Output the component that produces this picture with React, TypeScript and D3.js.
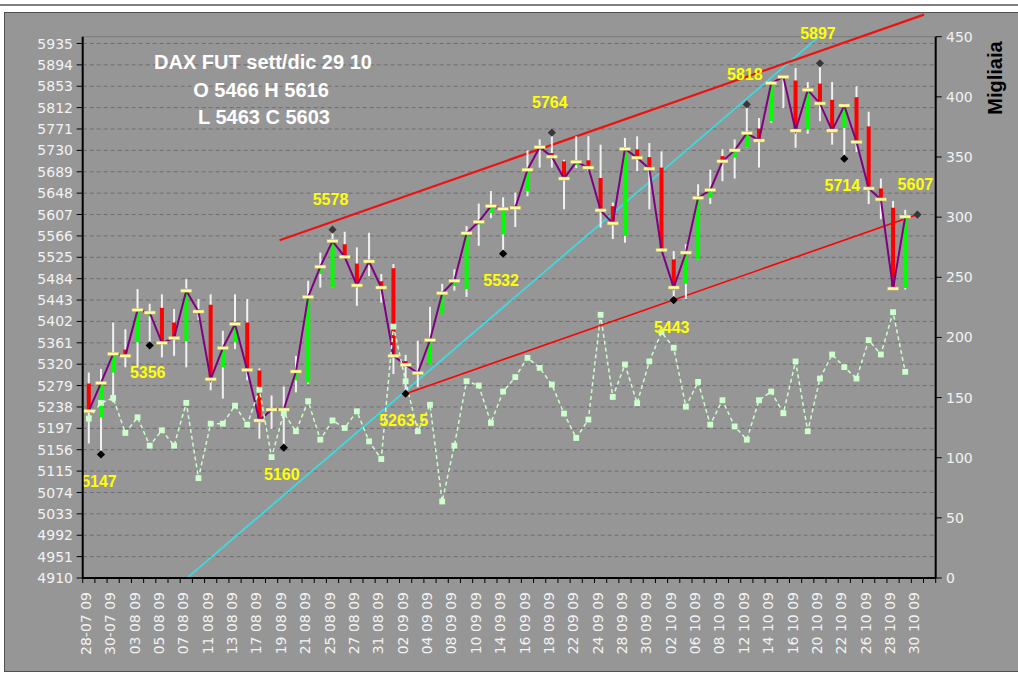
import React from 'react';
import * as d3 from 'd3';

const dates = [
  '28-07 09','29-07 09','30-07 09','31-07 09','03 08 09','04 08 09','05 08 09','06 08 09','07 08 09','10 08 09',
  '11 08 09','12 08 09','13 08 09','14 08 09','17 08 09','18 08 09','19 08 09','20 08 09','21 08 09','24 08 09',
  '25 08 09','26 08 09','27 08 09','28 08 09','31 08 09','01 09 09','02 09 09','03 09 09','04 09 09','07 09 09',
  '08 09 09','09 09 09','10 09 09','11 09 09','14 09 09','15 09 09','16 09 09','17 09 09','18 09 09','21 09 09',
  '22 09 09','23 09 09','24 09 09','25 09 09','28 09 09','29 09 09','30 09 09','01 10 09','02 10 09','05 10 09',
  '06 10 09','07 10 09','08 10 09','09 10 09','12 10 09','13 10 09','14 10 09','15 10 09','16 10 09','19 10 09',
  '20 10 09','21 10 09','22 10 09','23 10 09','26 10 09','27 10 09','28 10 09','29 10 09','30 10 09',''
];

const opens = [5283,5218,5304,5348,5362,5412,5428,5400,5364,5425,5434,5314,5362,5400,5308,5230,5231,5289,5285,5493,
  5467,5550,5513,5511,5479,5504,5326,5306,5320,5416,5470,5464,5588,5610,5569,5624,5652,5732,5725,5709,
  5702,5711,5677,5623,5566,5732,5717,5697,5521,5474,5521,5639,5719,5716,5735,5772,5786,5866,5864,5770,
  5858,5827,5773,5832,5776,5657,5620,5466];
const highs = [5304,5311,5400,5387,5464,5436,5454,5426,5483,5445,5454,5384,5454,5445,5312,5260,5277,5336,5480,5534,
  5578,5574,5544,5572,5493,5512,5338,5365,5430,5474,5502,5585,5628,5652,5640,5649,5730,5751,5764,5712,
  5757,5757,5741,5630,5754,5757,5744,5728,5537,5550,5665,5693,5732,5751,5818,5792,5862,5872,5888,5861,
  5897,5861,5818,5853,5804,5676,5633,5616];
const lows = [5168,5147,5247,5314,5314,5356,5333,5336,5314,5405,5270,5254,5349,5289,5177,5196,5160,5266,5282,5467,
  5467,5524,5432,5489,5438,5301,5263.5,5276,5320,5416,5461,5449,5547,5600,5532,5583,5642,5697,5697,5617,
  5696,5690,5582,5560,5553,5690,5617,5537,5443,5445,5521,5627,5671,5676,5735,5697,5783,5811,5735,5762,
  5786,5741,5714,5727,5627,5598,5464,5463];
const closes = [5230,5284,5340,5336,5424,5419,5361,5370,5461,5421,5291,5351,5397,5309,5212,5233,5233,5306,5449,5507,
  5556,5526,5471,5517,5467,5336,5319,5303,5366,5456,5480,5571,5593,5623,5618,5620,5693,5736,5718,5676,
  5708,5697,5615,5590,5733,5716,5695,5539,5467,5534,5639,5654,5709,5730,5763,5749,5859,5871,5768,5846,
  5820,5768,5816,5746,5657,5636,5465,5603];

const volumes = [132.5,145.6,149.7,120.6,133.6,110,122.8,110,145.6,83,128.3,128.3,143.3,127.5,156.5,100.5,137,122,147,115,
  131,124.7,138.6,113.6,98.9,209,163.6,122,144,63.6,110,163.6,160,128.9,155,167,183,174.7,160.8,136.7,
  116.4,131.7,218.8,150.5,177.5,145.3,180,204.4,191.4,142.4,163,127.5,147.8,126,115,147.8,155,137,180,122,
  165.8,185.8,175.3,165.8,197.8,185.8,221,171.4];

const leftTicks = [4910,4951,4992,5033,5074,5115,5156,5197,5238,5279,5320,5361,5402,5443,5484,5525,5566,5607,5648,5689,5730,5771,5812,5853,5894,5935];
const rightTicks = [0,50,100,150,200,250,300,350,400,450];

const pivotIndex = [1,5,16,20,26,34,38,48,54,60,62,68];
const pivotValue = [5147,5356,5160,5578,5263.5,5532,5764,5443,5818,5897,5714,5607];
const pivotKind = ['low','low','low','high','low','low','high','low','high','high','low','high'];

// trend lines: [index, value] pairs
const upperChannel = [[15.66, 5557.7], [68.54, 5990.3]];
const lowerChannel = [[26, 5263.5], [68, 5607]];
const cyanTrend = [[8.06, 4910], [59.92, 5948]];

const W = 1018, H = 676;
const PL = 82.7, PR = 935.7, PT = 36.7, PB = 578;

export default function App() {
  const x = d3.scaleBand<number>().domain(d3.range(dates.length)).range([PL, PR]).padding(0);
  const step = x.step();
  const xc = (k: number) => (x(0) as number) + (k + 0.5) * step;
  const yL = d3.scaleLinear().domain([4910, 5948]).range([PB, PT]);
  const yR = d3.scaleLinear().domain([0, 450]).range([PB, PT]);

  const closeLine = d3.line<number>().x((_, i) => xc(i)).y(d => yL(d))(closes) || '';
  const volLine = d3.line<number>().x((_, i) => xc(i)).y(d => yR(d))(volumes) || '';
  const tl = (pts: number[][]) => d3.line<number[]>().x(p => xc(p[0])).y(p => yL(p[1]))(pts) || '';
  const diamond = d3.symbol(d3.symbolSquare, 34)() || '';
  const vsq = d3.symbol(d3.symbolSquare, 34)() || '';

  const last = closes.length - 1;
  const dd = dates[last].slice(0, 5);
  const axisFont = '"DejaVu Sans", sans-serif';
  const boldFont = '"Liberation Sans", Arial, sans-serif';

  return (
    <svg width={W} height={H} style={{ position: 'absolute', left: 0, top: 0, background: '#fff' }}>
      <defs>
        <clipPath id="plotClip"><rect x={PL} y={PT} width={PR - PL} height={PB - PT} /></clipPath>
        <clipPath id="chartClip"><rect x={5} y={13} width={1013} height={658} /></clipPath>
      </defs>
      <rect x={0} y={0} width={W} height={H} fill="#ffffff" />
      <line x1={0} x2={W} y1={5} y2={5} stroke="#808080" strokeWidth={2} />
      <rect x={4.5} y={12.5} width={1014} height={659} fill="#969696" stroke="#505050" strokeWidth={1} />
      {/* gridlines */}
      {leftTicks.map(t => (
        <line key={'g' + t} x1={PL} x2={PR} y1={yL(t)} y2={yL(t)} stroke="#6e6e6e" strokeWidth={1} strokeDasharray="4,3" />
      ))}
      <line x1={PL} x2={PR} y1={PT} y2={PT} stroke="#7a7a7a" strokeWidth={1} />
      {/* trend lines */}
      <path d={tl(cyanTrend)} stroke="#33e0e8" strokeWidth={1.6} fill="none" clipPath="url(#plotClip)" />
      <path d={tl(lowerChannel)} stroke="#ff0000" strokeWidth={1.6} fill="none" />
      <path d={tl(upperChannel)} stroke="#f01010" strokeWidth={2.2} fill="none" clipPath="url(#chartClip)" />
      {/* candles */}
      {closes.map((c, i) => {
        const o = opens[i];
        const up = c >= o;
        const top = yL(Math.max(o, c));
        const bot = yL(Math.min(o, c));
        return (
          <g key={'c' + i}>
            <line x1={xc(i)} x2={xc(i)} y1={yL(highs[i])} y2={yL(lows[i])} stroke="#f2f2f2" strokeWidth={2} />
            <rect x={xc(i) - 2} y={top} width={4} height={Math.max(1, bot - top)} fill={up ? '#00ff00' : '#ff0000'} />
          </g>
        );
      })}
      <path d={closeLine} stroke="#800080" strokeWidth={2} fill="none" />
      {closes.map((c, i) => (
        <rect key={'t' + i} x={xc(i) - 5.5} y={yL(c) - 1.5} width={11} height={3} fill="#ffffa0" stroke="#c8b868" strokeWidth={0.5} />
      ))}
      {/* volume */}
      <path d={volLine} stroke="#ccffcc" strokeWidth={1.5} strokeDasharray="4,3" fill="none" />
      {volumes.map((v, i) => (
        <path key={'v' + i} d={vsq} transform={`translate(${xc(i)},${yR(v)})`} fill="#ccffcc" />
      ))}
      {/* pivots */}
      {pivotIndex.map((k, j) => (
        <path key={'p' + j} d={diamond} transform={`translate(${xc(k)},${yL(pivotValue[j])}) rotate(45)`}
          fill={pivotKind[j] === 'low' ? '#000000' : '#383838'} />
      ))}
      {pivotIndex.map((k, j) => (
        <text key={'pl' + j} x={xc(k) - 2} y={yL(pivotValue[j]) + (pivotKind[j] === 'low' ? 27 : -30)} dy="0.36em"
          textAnchor="middle" fill="#ffff00" fontFamily={boldFont} fontWeight="bold" fontSize={16}>
          {String(pivotValue[j])}
        </text>
      ))}
      {/* axes */}
      <line x1={PL} x2={PL} y1={PT} y2={PB} stroke="#000" strokeWidth={2} />
      <line x1={PR} x2={PR} y1={PT} y2={PB} stroke="#000" strokeWidth={2} />
      <line x1={PL} x2={PR} y1={PB} y2={PB} stroke="#000" strokeWidth={2} />
      {leftTicks.map(t => (
        <g key={'lt' + t}>
          <line x1={PL - 6} x2={PL} y1={yL(t)} y2={yL(t)} stroke="#000" strokeWidth={1} />
          <text x={73} y={yL(t)} dy="0.36em" textAnchor="end" fill="#f2f2f2" fontFamily={axisFont} fontSize={14}>{t}</text>
        </g>
      ))}
      {rightTicks.map(t => (
        <g key={'rt' + t}>
          <line x1={PR} x2={PR + 6} y1={yR(t)} y2={yR(t)} stroke="#000" strokeWidth={1} />
          <text x={946} y={yR(t)} dy="0.36em" textAnchor="start" fill="#f2f2f2" fontFamily={axisFont} fontSize={14}>{t}</text>
        </g>
      ))}
      {d3.range(dates.length + 1).map(i => (
        <line key={'xt' + i} x1={PL + i * step} x2={PL + i * step} y1={PB} y2={PB + 5} stroke="#000" strokeWidth={1} />
      ))}
      {dates.map((d, i) => (i % 2 === 0 && d ? (
        <text key={'xl' + i} transform={`translate(${xc(i) - 3},592) rotate(-90)`} dy="0.36em" textAnchor="end"
          fill="#f2f2f2" fontFamily={axisFont} fontSize={14}>{d}</text>
      ) : null))}
      <text transform="translate(995,78) rotate(-90)" dy="0.36em" textAnchor="middle" fill="#000" fontFamily={boldFont}
        fontWeight="bold" fontSize={20}>Migliaia</text>
      {/* title */}
      <g fill="#ffffff" fontFamily={boldFont} fontWeight="bold" fontSize={20} textAnchor="middle">
        <text x={263} y={69}>{`DAX FUT sett/dic ${dd}`}</text>
        <text x={261} y={97}>{`O ${opens[last]}  H ${highs[last]}`}</text>
        <text x={264} y={124}>{`L ${lows[last]}  C ${closes[last]}`}</text>
      </g>
    </svg>
  );
}
